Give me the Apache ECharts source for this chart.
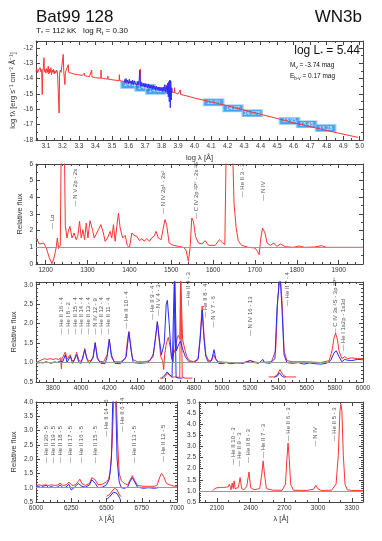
<!DOCTYPE html>
<html>
<head>
<meta charset="utf-8">
<script src="https://cdn.jsdelivr.net/npm/echarts@6/dist/echarts.min.js"></script>
<style>
  html, body { margin: 0; padding: 0; background: #fff; }
  #chart { width: 382px; height: 541px; }
</style>
</head>
<body>
<div id="chart"></div>
<script>
// ---------- data ----------
// panel 1: SED, log lambda vs log f_lambda
const sedModel = [
  [3.040,-13.55],[3.045,-13.35],[3.050,-13.62],[3.055,-13.45],[3.060,-13.5],[3.065,-13.3],[3.070,-13.58],
  [3.074,-13.42],[3.078,-15.05],[3.081,-13.5],[3.085,-13.3],[3.088,-12.65],[3.091,-13.55],[3.095,-13.4],
  [3.100,-13.65],[3.105,-13.35],[3.110,-13.6],[3.114,-13.2],[3.118,-13.7],[3.122,-13.4],[3.126,-13.6],
  [3.130,-13.3],[3.134,-13.75],[3.138,-13.45],[3.142,-13.6],[3.146,-13.4],[3.150,-13.7],[3.155,-13.5],
  [3.160,-13.65],[3.165,-13.45],[3.170,-13.6],[3.175,-13.5],[3.178,-13.7],[3.180,-16.25],[3.183,-13.6],
  [3.188,-13.45],[3.192,-13.6],[3.196,-13.5],[3.200,-13.65],[3.203,-13.5],[3.205,-12.43],[3.208,-13.55],
  [3.212,-13.6],[3.215,-14.4],[3.218,-13.6],[3.225,-13.55],[3.230,-13.62],[3.235,-13.1],[3.238,-13.6],
  [3.245,-13.64],[3.25,-13.66],[3.27,-13.71],[3.29,-13.74],[3.30,-13.77],[3.32,-13.8],[3.33,-13.82],
  [3.332,-13.65],[3.334,-13.82],[3.35,-13.85],[3.36,-13.87],[3.362,-13.75],[3.364,-13.87],[3.375,-13.89],
  [3.377,-13.45],[3.379,-13.89],[3.40,-13.95],[3.432,-13.98],[3.434,-13.45],[3.436,-13.98],[3.45,-14.0],
  [3.473,-14.04],[3.475,-13.85],[3.477,-14.04],[3.50,-14.08],[3.543,-14.14],[3.545,-13.75],[3.547,-14.14],
  [3.55,-14.16],[3.60,-14.25],[3.62,-14.3],[3.669,-14.42],[3.671,-13.4],[3.673,-14.42],[3.70,-14.48],
  [3.75,-14.58],[3.80,-14.68],[3.827,-14.75],[3.829,-14.42],[3.831,-14.76],[3.85,-14.82],[3.877,-14.92],
  [3.879,-14.6],[3.881,-14.93],[3.90,-15.0],[3.912,-15.03],[3.914,-14.75],[3.916,-15.04],[3.95,-15.12],
  [4.0,-15.27],[4.1,-15.52],[4.2,-15.78],[4.3,-16.05],[4.4,-16.33],[4.5,-16.6],[4.6,-16.88],[4.7,-17.13],
  [4.8,-17.38],[4.9,-17.62],[4.99,-17.83]
];
const sedObserved = [
  [3.575,-14.05],[3.58,-14.3],[3.585,-14.0],[3.59,-14.25],[3.595,-14.1],[3.60,-14.35],[3.605,-14.05],
  [3.61,-14.3],[3.615,-14.15],[3.62,-14.35],[3.625,-14.1],[3.63,-14.4],[3.635,-14.15],[3.64,-14.3],
  [3.645,-14.2],[3.65,-14.45],[3.655,-14.2],[3.66,-14.4],[3.665,-14.05],[3.668,-13.45],[3.672,-14.3],
  [3.675,-14.5],[3.68,-14.25],[3.685,-14.5],[3.69,-14.3],[3.695,-14.55],[3.70,-14.3],[3.705,-14.55],
  [3.71,-14.35],[3.715,-14.6],[3.72,-14.35],[3.725,-14.65],[3.73,-14.4],[3.735,-14.65],[3.74,-14.45],
  [3.745,-14.7],[3.75,-14.45],[3.755,-14.7],[3.76,-14.5],[3.765,-14.75],[3.77,-14.5],[3.775,-14.75],
  [3.78,-14.55],[3.785,-14.8],[3.79,-14.55],[3.795,-14.8],[3.80,-14.6],[3.805,-14.85],[3.81,-14.55],
  [3.815,-14.8],[3.82,-14.4],[3.825,-14.9],[3.83,-14.5],[3.835,-15.0],[3.838,-14.3],[3.841,-15.2],
  [3.844,-14.2],[3.847,-15.5],[3.85,-14.1],[3.853,-15.9],[3.856,-14.15],[3.859,-15.4],[3.862,-14.6],
  [3.865,-14.9]
];
// photometry: [log lambda, log f, magnitude]
const photometry = [
  [3.615,-14.42,'14.36'],[3.700,-14.60,'14.52'],[3.765,-14.80,'14.62'],
  [4.116,-15.55,'15.01'],[4.233,-15.94,'14.87'],[4.349,-16.26,'14.575'],
  [4.575,-16.76,'13.95'],[4.679,-16.98,'13.45'],[4.794,-17.23,'13.28']
];

// panel 2: UV, relative flux
const uvModel = [
  [1177,1.56],[1185,1.2],[1195,1.26],[1201,1.0],[1209,0.36],[1215,0.02],[1220,0.36],[1225,0.96],[1228,1.56],
  [1231,0.92],[1235,1.12],[1237,6.5],[1245,6.5],[1247,2.32],[1251,1.56],[1254,1.96],[1258,2.26],[1263,1.56],
  [1268,1.86],[1273,1.46],[1277,1.72],[1281,2.56],[1285,1.56],[1289,2.06],[1293,1.46],[1297,2.46],[1301,1.56],
  [1306,2.6],[1312,2.06],[1316,1.56],[1321,1.8],[1326,2.06],[1332,2.36],[1338,1.86],[1342,1.36],[1348,1.56],
  [1354,1.96],[1358,1.56],[1362,2.36],[1366,1.36],[1370,2.26],[1374,3.06],[1378,2.16],[1384,1.56],[1390,1.72],
  [1395,1.12],[1400,0.96],[1406,1.86],[1411,1.72],[1418,1.66],[1424,1.4],[1430,1.52],[1435,1.36],[1442,1.52],
  [1448,1.36],[1453,1.56],[1459,1.66],[1464,1.96],[1469,1.56],[1476,1.46],[1481,2.16],[1485,2.66],[1489,2.36],
  [1495,1.26],[1505,1.12],[1517,1.06],[1529,1.0],[1535,0.86],[1541,0.16],[1545,0.96],[1549,2.76],[1553,2.56],
  [1558,1.66],[1565,1.26],[1573,1.2],[1581,1.4],[1589,1.12],[1605,1.12],[1615,1.46],[1623,1.26],[1628,1.16],
  [1631,6.5],[1647,6.5],[1650,3.6],[1655,2.2],[1660,1.4],[1668,1.12],[1684,1.0],[1700,0.96],[1706,0.76],
  [1710,0.56],[1714,1.56],[1718,2.16],[1724,1.86],[1729,1.26],[1737,1.12],[1745,1.26],[1752,1.06],[1761,1.2],
  [1772,1.04],[1791,1.0],[1806,1.08],[1819,1.0],[1843,1.02],[1859,1.1],[1871,1.0],[1903,1.0],[1958,1.0]
];
const uvLines = [
  [1215,2.1,'— Lα'],[1272,3.45,'— N V 2p - 2s'],[1481,3.0,'— N IV 2p¹ - 2s²'],
  [1560,2.7,'— C IV 2p ²P° - 2s ²S'],[1669,4.0,'— He II 3 - 2'],[1720,3.8,'— N IV']
];

// panel 3: optical, relative flux
const optModel = [
  [3680,1.0],[3720,1.07],[3740,1.1],[3760,1.08],[3780,1.1],[3800,1.08],[3820,1.1],[3840,1.08],[3855,1.12],
  [3860,0.84],[3865,1.1],[3875,1.08],[3888,1.27],[3900,1.08],[3912,1.06],[3923,1.2],[3935,1.05],[3950,1.05],
  [3968,1.26],[3985,1.05],[4000,1.03],[4012,1.1],[4026,1.36],[4040,1.1],[4055,1.05],[4070,1.05],[4085,1.15],
  [4100,1.52],[4115,1.15],[4130,1.03],[4160,1.02],[4185,1.2],[4200,1.6],[4215,1.2],[4235,1.02],[4280,1.02],
  [4315,1.1],[4330,1.6],[4339,1.8],[4350,1.5],[4365,1.08],[4400,1.02],[4450,1.02],[4490,1.05],[4515,1.25],
  [4530,1.7],[4541,2.05],[4552,1.65],[4565,1.15],[4578,1.05],[4586,0.82],[4593,1.2],[4605,1.5],[4619,1.65],
  [4632,1.4],[4645,1.1],[4655,1.05],[4668,1.35],[4680,1.6],[4690,1.7],[4702,1.6],[4706,3.3],[4714,3.3],
  [4720,1.6],[4735,1.35],[4750,1.15],[4770,1.05],[4800,1.02],[4830,1.1],[4845,1.7],[4859,2.45],[4872,1.7],
  [4885,1.2],[4905,1.05],[4925,1.05],[4940,1.2],[4955,1.08],[4975,1.02],[5050,1.0],[5150,1.0],[5200,1.05],
  [5250,1.0],[5350,1.02],[5380,1.3],[5395,2.6],[5411,3.3],[5425,2.6],[5440,1.3],[5460,1.05],[5500,1.02],
  [5600,1.02],[5700,1.0],[5760,1.05],[5780,1.3],[5795,1.65],[5806,1.75],[5818,1.6],[5830,1.3],[5850,1.1],
  [5870,1.15],[5890,1.1],[5920,1.12],[5960,1.1],[6000,1.1]
];
const optObserved = [
  [3680,0.98],[3710,1.0],[3730,0.99],[3750,1.02],[3770,1.0],[3790,0.98],[3810,1.02],[3830,1.0],[3850,1.04],
  [3870,1.02],[3888,1.2],[3900,1.0],[3923,1.16],[3940,0.98],[3968,1.2],[3985,1.0],[4000,0.98],[4026,1.33],
  [4045,1.05],[4060,0.98],[4085,1.12],[4100,1.5],[4115,1.1],[4140,0.98],[4170,0.97],[4185,1.15],[4200,1.6],
  [4215,1.15],[4240,0.98],[4280,0.97],[4320,1.15],[4339,1.78],[4355,1.3],[4370,1.0],[4420,0.98],[4470,1.0],
  [4510,1.15],[4530,1.7],[4541,2.05],[4555,1.6],[4570,1.2],[4590,1.5],[4604,2.5],[4612,2.6],[4625,2.0],
  [4640,1.15],[4652,1.0],[4660,1.6],[4664,3.3],[4670,3.3],[4676,1.3],[4690,1.45],[4705,1.55],[4720,1.35],
  [4740,1.15],[4765,1.02],[4800,1.0],[4830,1.08],[4845,1.6],[4859,2.35],[4872,1.6],[4885,1.15],[4905,1.0],
  [4925,1.05],[4943,1.33],[4955,1.1],[4975,0.98],[5000,0.97],[5030,1.0],[5060,0.97],[5100,0.99],[5150,0.98],
  [5200,1.05],[5230,1.0],[5260,0.98],[5290,1.08],[5300,1.0],[5340,0.98],[5375,1.1],[5390,2.4],[5411,3.3],
  [5425,2.4],[5440,1.2],[5460,1.0],[5500,0.98],[5540,1.0],[5580,0.96],[5620,0.99],[5660,0.97],[5700,0.96],
  [5740,0.98],[5770,1.05],[5795,1.25],[5810,1.3],[5830,1.15],[5850,1.02],[5870,1.08],[5890,1.06],[5920,1.05],
  [5960,1.08],[6000,1.07]
];
const optInsetModel = [
  [4560,0.6],[4585,0.6],[4600,0.66],[4612,0.72],[4625,0.68],[4645,0.62],[4665,0.63],[4700,0.62],[4706,3.3],
  [4714,3.3],[4718,0.62],[4740,0.6],[4790,0.6],null,
  [5330,0.63],[5370,0.63],[5390,0.68],[5402,0.76],[5411,0.82],[5420,0.76],[5432,0.68],[5455,0.63],[5525,0.63]
];
const optInsetObserved = [
  [4570,0.6],[4595,0.68],[4610,0.76],[4625,0.7],[4645,0.63],[4658,0.65],[4662,3.3],[4670,3.3],[4674,0.62],
  [4690,0.6],[4720,0.6],null,
  [5370,0.62],[5395,0.66],[5405,0.74],[5411,0.77],[5418,0.73],[5428,0.64],[5450,0.62]
];
const optLines = [
  [3863,1.72,'— He II 16 - 4'],[3910,1.72,'— He I 8 - 2'],[3957,1.72,'— He II 15 - 4'],
  [4005,1.72,'— He II 14 - 4'],[4052,1.72,'— He II 13 - 4'],[4099,1.72,'— N IV 12 - 9'],
  [4147,1.72,'— He II 12 - 4'],[4194,1.72,'— He II 11 - 4'],[4324,1.87,'— He II 10 - 4'],
  [4506,2.1,'— He II 9 - 4'],[4548,2.2,'— N V 4 - 3'],[4761,2.45,'— He II 4 - 3'],
  [4879,2.15,'— He II 8 - 4'],[4938,1.9,'— N V 7 - 6'],[5199,1.68,'— N IV 16 - 13'],
  [5463,2.45,'— He II 7 - 4'],[5801,1.72,'— C IV 3s ²S - 3p ²P°'],[5860,1.3,'— He I 1s2p - 1s3d']
];

// panel 4 (left): red optical, relative flux
const redModel = [
  [6000,1.08],[6020,1.1],[6040,1.08],[6060,1.1],[6074,1.14],[6090,1.08],[6105,1.1],[6118,1.13],[6140,1.08],
  [6155,1.1],[6171,1.16],[6190,1.08],[6215,1.1],[6234,1.2],[6255,1.08],[6280,1.1],[6300,1.22],[6311,1.3],
  [6325,1.15],[6350,1.08],[6380,1.15],[6395,1.35],[6406,1.42],[6420,1.28],[6440,1.1],[6470,1.12],[6500,1.2],
  [6515,1.3],[6527,1.6],[6540,2.5],[6552,4.2],[6570,4.2],[6580,2.5],[6590,1.5],[6605,1.25],[6625,1.15],
  [6650,1.1],[6665,1.25],[6683,1.42],[6700,1.25],[6720,1.08],[6760,1.05],[6800,1.05],[6840,1.05],[6860,1.1],
  [6880,1.4],[6891,1.5],[6905,1.4],[6925,1.15],[6950,1.1],[6980,1.05],[7000,1.05]
];
const redObserved = [
  [6000,1.02],[6020,1.04],[6035,1.0],[6050,1.05],[6074,1.08],[6090,1.0],[6105,1.04],[6118,1.08],[6135,1.0],
  [6155,1.03],[6171,1.1],[6190,1.0],[6210,1.02],[6234,1.12],[6250,0.92],[6270,1.0],[6300,1.15],[6311,1.22],
  [6325,1.05],[6350,1.02],[6380,1.1],[6395,1.28],[6406,1.33],[6420,1.15],[6440,1.0],[6470,1.02],[6500,1.1],
  [6520,1.3],[6535,2.0],[6545,4.2],[6565,4.2],[6575,2.0],[6590,1.2],[6605,1.0],[6625,0.98],[6650,1.02],
  [6665,1.2],[6683,1.35],[6700,1.2],[6720,1.02],[6760,0.98],[6800,1.0],[6840,0.98],[6865,1.0]
];
const redInsetModel = [[6500,0.7],[6520,0.75],[6545,0.92],[6560,0.98],[6575,0.92],[6595,0.72],[6605,0.7]];
const redInsetObserved = [[6505,0.6],[6525,0.7],[6550,0.85],[6562,0.88],[6575,0.8],[6595,0.62],[6600,0.55]];
const redLines = [
  [6076,1.86,'— He II 20 - 5'],[6123,1.86,'— He II 19 - 5'],[6175,1.86,'— He II 18 - 5'],
  [6242,1.86,'— He II 17 - 5'],[6320,1.86,'— He II 16 - 5'],[6419,1.86,'— He II 15 - 5'],
  [6497,2.78,'— He II 14 - 6'],[6609,2.96,'— He II 6 - 4'],[6697,1.86,'— He II 13 - 5'],
  [6905,1.9,'— He II 12 - 5']
];

// panel 5 (right): near UV model, relative flux
const nuvModel = [
  [2060,1.0],[2080,1.1],[2100,1.14],[2120,1.15],[2140,1.16],[2150,1.2],[2160,1.15],[2170,1.22],[2180,1.17],
  [2190,1.25],[2200,1.18],[2210,1.3],[2220,1.15],[2225,1.05],[2235,1.35],[2245,1.1],[2253,1.45],[2262,1.1],
  [2275,1.05],[2290,1.15],[2306,1.6],[2320,1.1],[2340,1.05],[2365,1.2],[2385,1.85],[2400,1.15],[2430,1.05],
  [2480,1.1],[2500,1.8],[2511,2.35],[2522,1.8],[2540,1.1],[2600,1.03],[2680,1.03],[2710,1.3],[2722,2.4],
  [2733,3.15],[2744,2.4],[2756,1.3],[2780,1.03],[2900,1.02],[2960,1.08],[2980,1.25],[3000,1.08],[3030,1.02],
  [3120,1.03],[3160,1.3],[3180,2.6],[3195,4.6],[3203,4.9],[3212,4.6],[3225,2.6],[3240,1.3],[3260,1.05],
  [3300,1.02],[3400,1.02]
];
const nuvLines = [
  [2242,2.18,'— He II 10 - 3'],[2296,2.1,'— He II 9 - 3'],[2376,2.25,'— He II 8 - 3'],
  [2509,2.48,'— He II 7 - 3'],[2731,3.23,'— He II 6 - 3'],[2977,3.0,'— N IV'],[3146,3.23,'— He II 5 - 3']
];

// tick values
const range = (a, b, s) => { const r = []; for (let v = a; v <= b + s * 1e-6; v += s) r.push(+v.toFixed(4)); return r; };
const sedXTicks = range(3.1, 5.0, 0.1), sedYTicks = range(-18, -12, 1);
const uvXTicks = range(1200, 1900, 100), uvYTicks = range(0, 6, 1);
const optXTicks = range(3800, 6000, 200), optYTicks = range(0.5, 3.0, 0.5);
const redXTicks = range(6000, 7000, 250), redYTicks = range(0.5, 4.0, 0.5);
const nuvXTicks = range(2100, 3300, 300), nuvYTicks = range(0.5, 5.0, 0.5);

// ---------- chart ----------
const FONT = "'Liberation Sans', Arial, sans-serif";
const RED = '#ff3333', BLUE = '#2b2bff', INK = '#444';

const panels = [
  { grid: { left: 36, top: 41, width: 327, height: 99 },
    x: { min: 3.04, max: 5.02, major: sedXTicks, minor: range(3.05, 5.0, 0.05), fmt: v => v.toFixed(1), name: 'log λ [Å]', gap: 14 },
    y: { min: -18, max: -11.56, major: sedYTicks, minor: range(-18, -12, 0.5), fmt: v => v.toFixed(0), name: 'log fλ [erg s⁻¹ cm⁻² Å⁻¹]', gap: 19 } },
  { grid: { left: 36, top: 164, width: 327, height: 100 },
    x: { min: 1177, max: 1958, major: uvXTicks, minor: range(1180, 1940, 20), fmt: v => v, name: '', gap: 12 },
    y: { min: 0, max: 6, major: uvYTicks, minor: range(0, 6, 0.5), fmt: v => v, name: 'Relative flux', gap: 12 } },
  { grid: { left: 36, top: 282, width: 327, height: 100 },
    x: { min: 3680, max: 6000, major: optXTicks, minor: range(3700, 6000, 50), fmt: v => v, name: '', gap: 12 },
    y: { min: 0.5, max: 3.07, major: optYTicks, minor: range(0.5, 3.0, 0.1), fmt: v => v.toFixed(1), name: 'Relative flux', gap: 18 } },
  { grid: { left: 36, top: 402, width: 141, height: 100 },
    x: { min: 6000, max: 7000, major: redXTicks, minor: range(6000, 7000, 50), fmt: v => v, name: 'λ [Å]', gap: 13 },
    y: { min: 0.5, max: 4.0, major: redYTicks, minor: range(0.5, 4.0, 0.1), fmt: v => v.toFixed(1), name: 'Relative flux', gap: 18 } },
  { grid: { left: 199, top: 402, width: 164, height: 100 },
    x: { min: 1940, max: 3400, major: nuvXTicks, minor: range(2000, 3400, 100), fmt: v => v, name: 'λ [Å]', gap: 13 },
    y: { min: 0.5, max: 5.0, major: nuvYTicks, minor: range(0.5, 5.0, 0.1), fmt: v => v.toFixed(1), name: '', gap: 12 } }
];

function axesFor(gi, s, dim) {
  const sides = dim === 'x' ? ['bottom', 'top'] : ['left', 'right'];
  const out = [];
  sides.forEach((side, k) => {
    out.push({
      gridIndex: gi, type: 'value', min: s.min, max: s.max, position: side,
      splitLine: { show: false },
      axisLine: { show: true, onZero: false, lineStyle: { color: INK, width: 1 } },
      axisTick: { show: true, inside: true, length: 4, customValues: s.major, lineStyle: { color: INK } },
      axisLabel: k === 0
        ? { show: true, customValues: s.major, formatter: s.fmt, fontSize: 6.5, color: '#333', fontFamily: FONT, margin: 3 }
        : { show: false },
      name: k === 0 ? s.name : '', nameLocation: 'middle', nameGap: s.gap, nameMoveOverlap: false,
      nameTextStyle: { fontSize: 7.5, color: '#333', fontFamily: FONT }
    });
    out.push({
      gridIndex: gi, type: 'value', min: s.min, max: s.max, position: side,
      splitLine: { show: false },
      axisLine: { show: false, onZero: false },
      axisTick: { show: true, inside: true, length: 2, customValues: s.minor, lineStyle: { color: INK } },
      axisLabel: { show: false }
    });
  });
  return out;
}

const line = (gi, data, color, z, unity) => ({
  type: 'line', xAxisIndex: gi * 4, yAxisIndex: gi * 4, data, symbol: 'none', showSymbol: false,
  connectNulls: false, lineStyle: { color, width: 1 }, z, silent: true,
  markLine: unity ? { silent: true, symbol: 'none', label: { show: false },
    lineStyle: { color: '#999', type: 'solid', width: 1 }, data: [{ yAxis: 1 }] } : undefined
});

const lineIds = (gi, data) => ({
  type: 'scatter', xAxisIndex: gi * 4, yAxisIndex: gi * 4, data, symbolSize: 1, silent: true, z: 6,
  itemStyle: { color: 'transparent' },
  label: { show: true, position: 'inside', rotate: 90, align: 'left', verticalAlign: 'middle',
    formatter: p => p.data[2], fontSize: 6, color: '#222', fontFamily: FONT }
});

const sub = { fontSize: 5.5, verticalAlign: 'bottom', fontFamily: FONT, fill: '#111' };

const option = {
  animation: false,
  backgroundColor: '#fff',
  grid: panels.map(p => Object.assign({ containLabel: false }, p.grid)),
  xAxis: panels.flatMap((p, i) => axesFor(i, p.x, 'x')),
  yAxis: panels.flatMap((p, i) => axesFor(i, p.y, 'y')),
  graphic: [
    { type: 'text', left: 36, top: 9, style: { text: 'Bat99 128', font: `17px ${FONT}`, fill: '#111' } },
    { type: 'text', right: 20, top: 9, style: { text: 'WN3b', font: `17px ${FONT}`, fill: '#111' } },
    { type: 'text', left: 36, top: 27, style: {
      text: '{a|T}{s|*}{a| = 112 kK   log R}{s|t}{a| = 0.30}',
      rich: { a: { fontSize: 8, lineHeight: 10, fontFamily: FONT, fill: '#111' }, s: Object.assign({ lineHeight: 10 }, sub) } } },
    { type: 'text', right: 22, top: 45, style: {
      text: '{a|log L}{s|*}{a| = 5.44}',
      rich: { a: { fontSize: 12, lineHeight: 14, fontFamily: FONT, fill: '#111' }, s: Object.assign({ lineHeight: 14 }, sub, { fontSize: 7 }) } } },
    { type: 'text', left: 290, top: 62, style: {
      text: '{a|M}{s|v}{a| = -3.74 mag}',
      rich: { a: { fontSize: 6.5, lineHeight: 9, fontFamily: FONT, fill: '#111' }, s: Object.assign({ lineHeight: 9 }, sub, { fontSize: 4.5 }) } } },
    { type: 'text', left: 290, top: 73, style: {
      text: '{a|E}{s|b-v}{a| = 0.17 mag}',
      rich: { a: { fontSize: 6.5, lineHeight: 9, fontFamily: FONT, fill: '#111' }, s: Object.assign({ lineHeight: 9 }, sub, { fontSize: 4.5 }) } } }
  ],
  series: [
    // panel 1
    {
      type: 'scatter', xAxisIndex: 0, yAxisIndex: 0, data: photometry, symbol: 'rect', symbolSize: [20, 7],
      silent: true, z: 2,
      itemStyle: { color: '#1f8be8', borderColor: '#8cc8ff', borderWidth: 1 },
      label: { show: true, position: 'inside', formatter: p => p.data[2], fontSize: 5.5, color: '#fff', fontFamily: FONT }
    },
    line(0, sedModel, RED, 3, false),
    line(0, sedObserved, BLUE, 4, false),
    // panel 2
    line(1, uvModel, RED, 3, true),
    lineIds(1, uvLines),
    // panel 3
    line(2, optModel, RED, 3, true),
    line(2, optObserved, BLUE, 4, false),
    line(2, optInsetModel, RED, 3, false),
    line(2, optInsetObserved, BLUE, 4, false),
    lineIds(2, optLines),
    // panel 4
    line(3, redModel, RED, 3, true),
    line(3, redObserved, BLUE, 4, false),
    line(3, redInsetModel, RED, 3, false),
    line(3, redInsetObserved, BLUE, 4, false),
    lineIds(3, redLines),
    // panel 5
    line(4, nuvModel, RED, 3, true),
    lineIds(4, nuvLines)
  ]
};

const chart = echarts.init(document.getElementById('chart'), null, { renderer: 'canvas' });
chart.setOption(option);
</script>
</body>
</html>
